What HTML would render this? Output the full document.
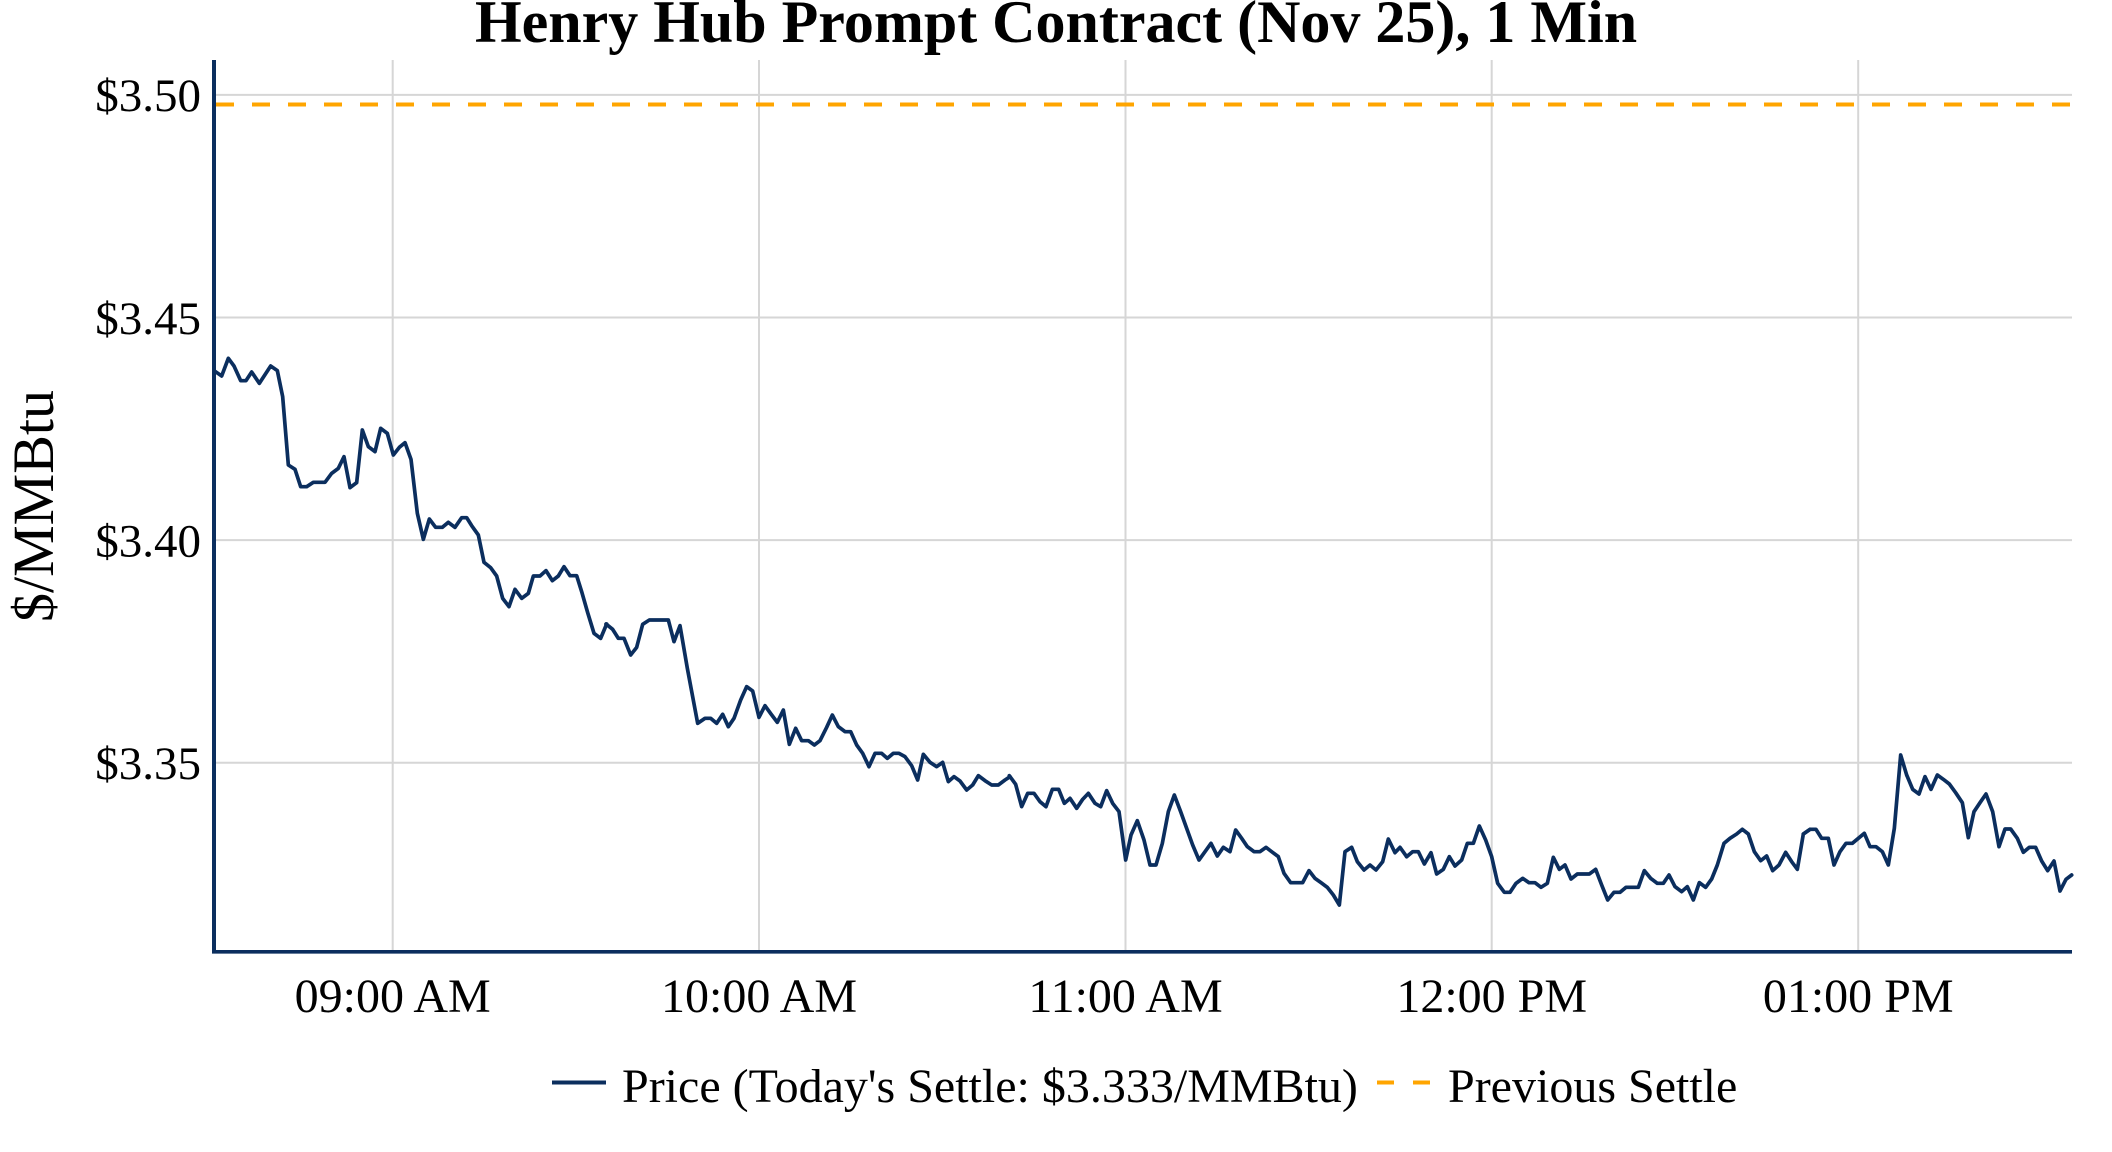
<!DOCTYPE html>
<html>
<head>
<meta charset="utf-8">
<style>
  html, body { margin: 0; padding: 0; background: #ffffff; }
  body { width: 2112px; height: 1152px; overflow: hidden; }
  svg { display: block; }
  text { font-family: "Liberation Serif", "Times New Roman", serif; fill: #000; }
</style>
</head>
<body>
<svg width="2112" height="1152" viewBox="0 0 2112 1152" xmlns="http://www.w3.org/2000/svg">
  <rect x="0" y="0" width="2112" height="1152" fill="#ffffff"/>

  <!-- gridlines -->
  <g stroke="#d6d6d6" stroke-width="2" fill="none">
    <line x1="214" y1="94.9" x2="2072" y2="94.9"/>
    <line x1="214" y1="317.5" x2="2072" y2="317.5"/>
    <line x1="214" y1="540.1" x2="2072" y2="540.1"/>
    <line x1="214" y1="762.7" x2="2072" y2="762.7"/>
    <line x1="392.7" y1="60" x2="392.7" y2="952"/>
    <line x1="759" y1="60" x2="759" y2="952"/>
    <line x1="1125.5" y1="60" x2="1125.5" y2="952"/>
    <line x1="1491.7" y1="60" x2="1491.7" y2="952"/>
    <line x1="1858.2" y1="60" x2="1858.2" y2="952"/>
  </g>

  <!-- previous settle dashed line -->
  <line x1="216" y1="104.5" x2="2072" y2="104.5" stroke="#FFA500" stroke-width="4" stroke-dasharray="18 18"/>

  <!-- price line -->
  <g fill="none" stroke="#0b2e5e" stroke-width="3.7" stroke-linejoin="round" stroke-linecap="round">
    <polyline vector-effect="non-scaling-stroke" transform="translate(210,340) scale(0.333333)" points="12,92 35,108 55,55 72,78 92,122 108,122 125,96 148,130 182,78 202,92 218,170 235,375 255,388 272,440 290,440 310,427 345,427 365,400 385,385 402,350 420,443 440,428 457,270 475,320 495,335 512,265 532,280 550,345 568,322 585,308 603,358 622,520 640,598 658,537 677,562 697,562 715,547 735,562 755,533 770,533 785,557 805,585 822,667 842,683 860,708 878,775 897,800 915,748 935,775 955,760 970,708 990,708 1008,692 1027,722 1045,708 1062,680 1080,707 1100,707 1115,755 1133,818 1152,880 1172,895 1190,852"/>
    <polyline vector-effect="non-scaling-stroke" transform="translate(600,590) scale(0.333333)" points="18,102 38,118 55,145 72,145 92,195 110,172 128,103 148,90 205,90 222,155 240,107 262,235 293,400 315,385 332,385 350,400 368,373 385,410 402,385 422,330 440,290 458,303 477,382 495,347 513,372 532,397 550,360 568,463 587,415 605,452 625,452 643,465 660,452 680,412 697,375 715,410 735,425 752,425 770,465 788,490 807,530 825,490 845,490 862,505 880,490 897,490 915,500 935,527 953,570 970,493 990,517 1010,530 1028,517 1045,575 1062,560 1080,573 1100,600 1118,585 1135,557 1155,572 1175,585 1195,585 1215,570 1230,560"/>
    <polyline vector-effect="non-scaling-stroke" transform="translate(1000,730) scale(0.333333)" points="28,137 47,163 65,230 83,190 102,190 120,215 138,230 157,178 176,178 193,220 210,205 230,235 248,208 265,190 285,220 302,230 320,182 338,220 357,245 377,390 393,315 412,272 432,330 450,405 468,405 487,340 505,245 523,195 542,245 560,295 578,345 597,390 615,365 633,340 652,378 670,352 690,365 707,300 725,325 742,350 762,365 780,365 798,352 815,365 835,380 852,430 872,458 890,458 908,458 927,422 945,445 963,458 982,472 1000,495 1018,525 1035,365 1055,352 1072,395 1092,420 1110,405 1128,420 1148,395 1165,327 1185,368 1200,352 1220,380"/>
    <polyline vector-effect="non-scaling-stroke" transform="translate(1400,730) scale(0.333333)" points="20,380 38,365 55,365 73,402 93,368 110,432 130,418 148,380 165,408 185,390 202,340 220,340 238,288 257,330 275,380 293,460 313,487 330,487 348,460 368,445 387,458 405,458 423,472 442,460 460,382 478,418 495,405 513,447 532,432 550,432 568,432 587,418 605,465 623,510 642,487 660,487 678,472 697,472 715,472 733,422 752,445 772,460 790,460 807,435 825,470 845,485 862,470 880,510 898,458 917,472 935,447 952,405 972,340 990,325 1010,312 1027,298 1045,312 1063,365 1082,392 1100,378 1118,422 1137,405 1157,367 1175,395 1192,418 1210,312 1230,298"/>
    <polyline vector-effect="non-scaling-stroke" transform="translate(1800,730) scale(0.333333)" points="10,312 30,298 48,298 65,325 85,325 102,405 120,365 138,340 157,340 175,325 193,310 210,350 228,350 247,365 265,405 283,295 302,75 320,135 338,178 357,192 375,140 393,178 412,135 430,148 448,162 467,188 487,218 505,323 522,245 540,218 558,192 578,245 597,350 615,297 632,297 652,325 670,367 688,352 707,352 725,393 743,422 762,393 780,483 798,448 815,435"/>
  </g>

  <!-- axis lines -->
  <line x1="214" y1="60" x2="214" y2="953.5" stroke="#0b2e5e" stroke-width="4"/>
  <line x1="212" y1="951.8" x2="2072" y2="951.8" stroke="#0b2e5e" stroke-width="3.7"/>

  <!-- title -->
  <text x="1056" y="42" text-anchor="middle" font-size="60" font-weight="bold">Henry Hub Prompt Contract (Nov 25), 1 Min</text>

  <!-- y tick labels -->
  <g font-size="47" text-anchor="end">
    <text x="201" y="111">$3.50</text>
    <text x="201" y="334">$3.45</text>
    <text x="201" y="556.5">$3.40</text>
    <text x="201" y="779">$3.35</text>
  </g>

  <!-- x tick labels -->
  <g font-size="48" text-anchor="middle">
    <text x="392.7" y="1012">09:00 AM</text>
    <text x="759" y="1012">10:00 AM</text>
    <text x="1125.5" y="1012">11:00 AM</text>
    <text x="1491.7" y="1012">12:00 PM</text>
    <text x="1858.2" y="1012">01:00 PM</text>
  </g>

  <!-- y axis title -->
  <text transform="translate(53,506) rotate(-90)" text-anchor="middle" font-size="58">$/MMBtu</text>

  <!-- legend -->
  <line x1="552" y1="1082.5" x2="606" y2="1082.5" stroke="#0b2e5e" stroke-width="4"/>
  <text x="622" y="1102" font-size="48">Price (Today's Settle: $3.333/MMBtu)</text>
  <line x1="1377" y1="1082.5" x2="1431" y2="1082.5" stroke="#FFA500" stroke-width="4" stroke-dasharray="17 19"/>
  <text x="1448" y="1102" font-size="48">Previous Settle</text>
</svg>
</body>
</html>
